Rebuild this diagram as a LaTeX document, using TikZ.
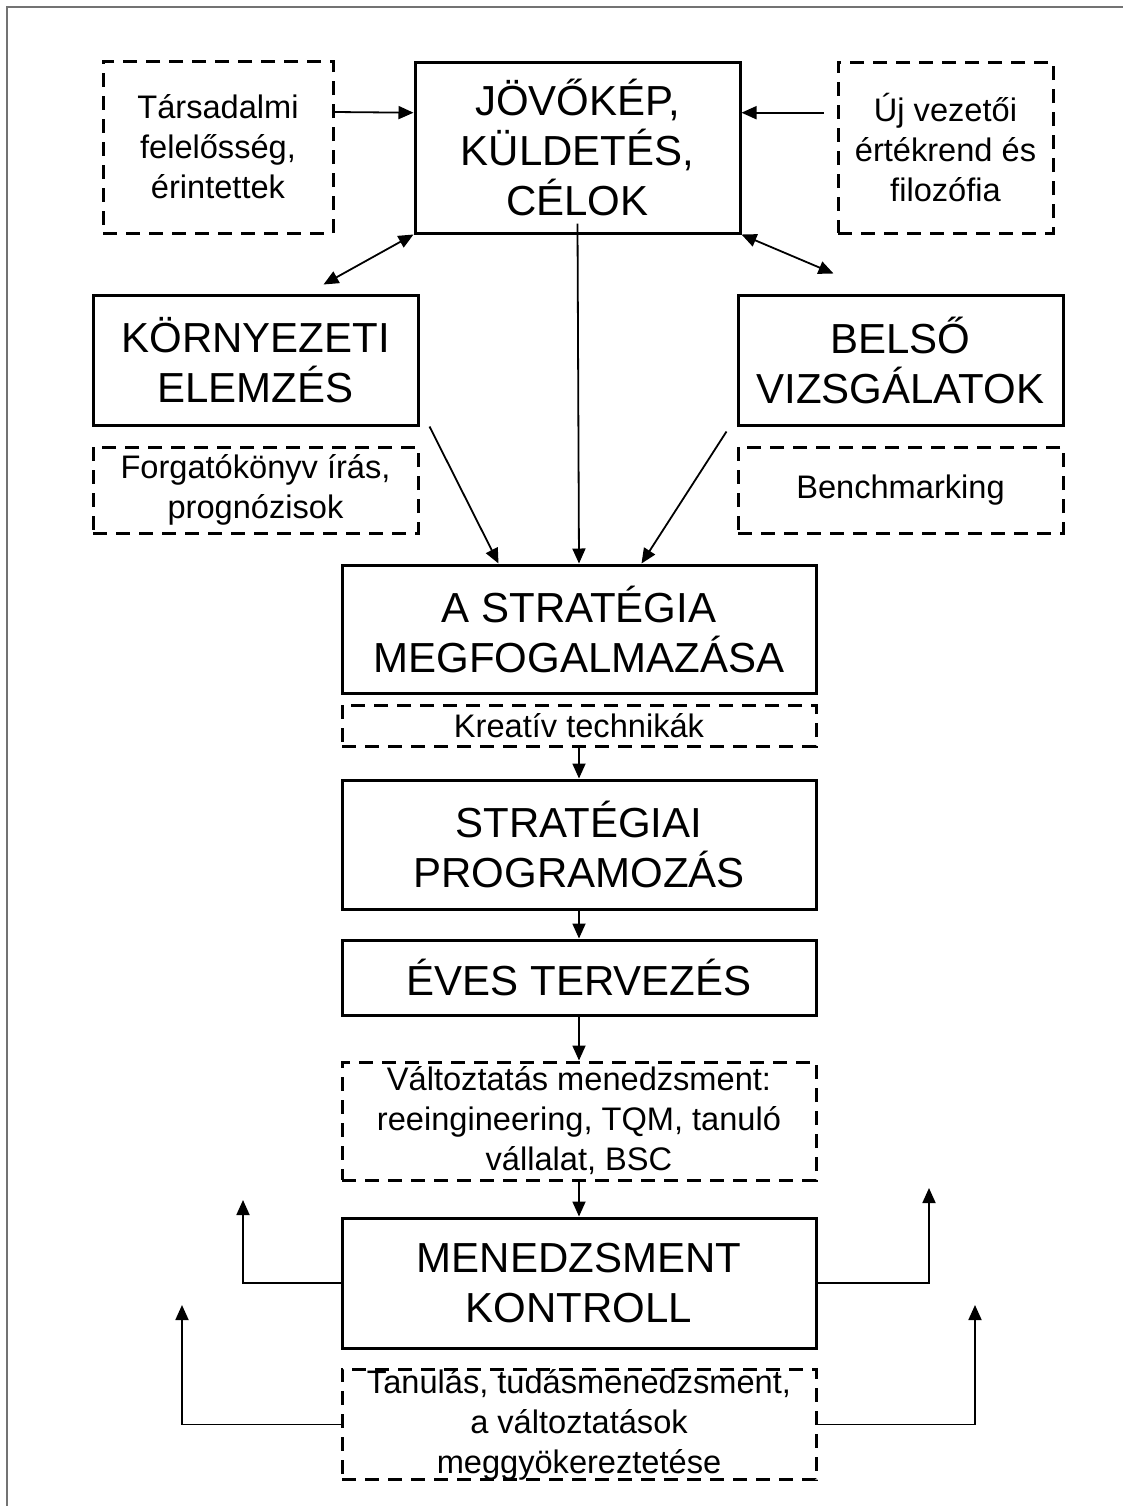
\documentclass[tikz,border=0pt]{standalone}
\usepackage{fontspec}
\setmainfont{Liberation Sans}
\usetikzlibrary{arrows.meta,calc}
\tikzset{
  sz/.style 2 args={minimum width=#1*0.5pt, minimum height=#2*0.5pt},
  solidbox/.style={draw, line width=1.5pt, inner sep=0pt, align=center, font=\fontsize{21}{25}\selectfont},
  dashbox/.style={draw, line width=1.5pt, dash pattern=on 7pt off 4.5pt, inner sep=0pt, align=center, font=\fontsize{16.3}{20}\selectfont},
  arr/.style={line width=0.9pt, -{Triangle[length=7.5pt,width=6.5pt]}},
  darr/.style={line width=0.9pt, {Triangle[length=7.5pt,width=6.5pt]}-{Triangle[length=7.5pt,width=6.5pt]}},
  frame/.style={draw=black!55, line width=1.1pt}
}
\begin{document}
\begin{tikzpicture}[x=0.5pt,y=-0.5pt]
\useasboundingbox (0,0) rectangle (1123,1506);
\draw[frame] (7,1506) -- (7,7) -- (1123,7);

% top row
\node[dashbox, sz={230}{172}] (soc) at (218,147) {Társadalmi\\felelősség,\\érintettek};
\node[solidbox, sz={325}{171}] (vis) at (577.5,147.5) {JÖVŐKÉP,\\KÜLDETÉS,\\CÉLOK};
\node[dashbox, sz={215}{171}] (val) at (945.5,147.5) {Új vezetői\\értékrend és\\filozófia};

% second row
\node[solidbox, sz={325}{130}] (env) at (255.5,360) {KÖRNYEZETI\\ELEMZÉS};
\node[solidbox, sz={325}{130}] (int) at (900.5,360) {BELSŐ\\VIZSGÁLATOK};
\node[dashbox, sz={325}{86}] (scen) at (255.5,490) {Forgatókönyv írás,\\prognózisok};
\node[dashbox, sz={325}{86}] (bench) at (900.5,490) {Benchmarking};

% central column
\node[solidbox, sz={474}{128}] (strat) at (579,629) {A STRATÉGIA\\MEGFOGALMAZÁSA};
\node[dashbox, sz={474}{41}] (kreat) at (579,725.5) {Kreatív technikák};
\node[solidbox, sz={474}{129}] (prog) at (579,844.5) {STRATÉGIAI\\PROGRAMOZÁS};
\node[solidbox, sz={474}{75}] (eves) at (579,977.5) {ÉVES TERVEZÉS};
\node[dashbox, sz={474}{118}] (chg) at (579,1121) {Változtatás menedzsment:\\reeingineering, TQM, tanuló\\vállalat, BSC};
\node[solidbox, sz={474}{130}] (ctrl) at (579,1283) {MENEDZSMENT\\KONTROLL};
\node[dashbox, sz={474}{107}] (learn) at (579,1424.5) {Tanulás, tudásmenedzsment,\\a változtatások\\meggyökereztetése};

% free ends
\coordinate (cl) at (243,1200);
\coordinate (cr) at (929,1188);
\coordinate (ll) at (182,1305);
\coordinate (lr) at (975,1305);

% connectors top
\draw[arr] ($(soc.north east)!0.3!(soc.south east)$) -- ($(vis.north west)!0.3!(vis.south west)$);
\draw[arr] ($(val.north west)!0.3!(val.south west)+(-13,0)$) -- ($(vis.north east)!0.3!(vis.south east)$);
\draw[darr] (vis.south west) -- ($(env.north east)+(-96,-9)$);
\draw[darr] (vis.south east) -- ($(int.north west)+(97,-20)$);

% into strategy
\draw[arr] ($(env.south east)+(10,0)$) -- ($(strat.north west)+(158,0)$);
\draw[arr] ($(vis.south)+(0,-11)$) -- (strat.north);
\draw[arr] ($(int.south west)+(-10,5)$) -- ($(strat.north west)+(301,0)$);

% chain
\draw[arr] (kreat.south) -- (prog.north);
\draw[arr] (prog.south) -- (eves.north);
\draw[arr] (eves.south) -- (chg.north);
\draw[arr] (chg.south) -- (ctrl.north);

% feedback
\draw[arr] (ctrl.west) -| (cl);
\draw[arr] (ctrl.east) -| (cr);
\draw[arr] (learn.west) -| (ll);
\draw[arr] (learn.east) -| (lr);
\end{tikzpicture}
\end{document}
